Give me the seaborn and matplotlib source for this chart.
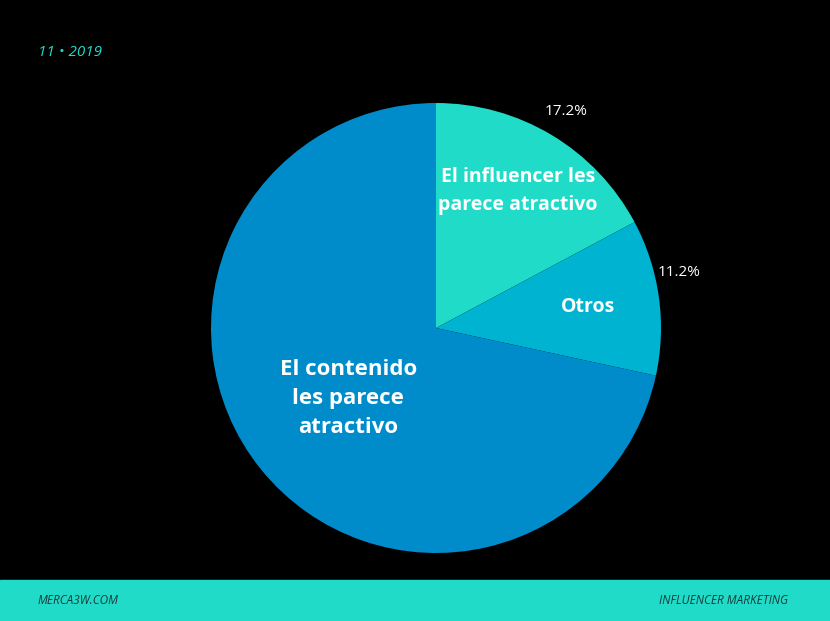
import numpy as np
import matplotlib
matplotlib.use('Agg')
import matplotlib.pyplot as plt
import seaborn as sns

# Data
categories = ["El influencer les\nparece atractivo", "Otros", "El contenido\nles parece\natractivo"]
shares = [17.2, 11.2, 71.6]
colors = ["#20dbc8", "#00b3d1", "#008ccb"]

sns.set_theme(style="dark", rc={"font.family": "Open Sans"})

fig = plt.figure(figsize=(8.3, 6.21), dpi=100, facecolor="black")
W, H = 830, 621
cx, cy, r = 436, 328, 225
ax = fig.add_axes([(cx - r) / W, (H - cy - r) / H, 2 * r / W, 2 * r / H])
ax.set_facecolor("black")

wedges, _ = ax.pie(shares, colors=colors, startangle=90, counterclock=False,
                   radius=1.0, wedgeprops=dict(linewidth=0))
ax.set_xlim(-1, 1)
ax.set_ylim(-1, 1)
ax.set_aspect("equal")
ax.axis("off")

# label placement (radius, angle offset in degrees) per wedge
label_r = [0.71, 0.68, 0.5]
pct_r = [1.12, 1.11, 1.30]
pct_off = [0, 5, 26]
for w, cat, val, lr, pr, po in zip(wedges, categories, shares, label_r, pct_r, pct_off):
    mid = np.deg2rad((w.theta1 + w.theta2) / 2)
    ax.text(lr * np.cos(mid), lr * np.sin(mid), cat, ha="center", va="center",
            color="white", fontsize=14 if val < 50 else 16, fontweight="bold",
            linespacing=1.5)
    pm = mid + np.deg2rad(po)
    ax.text(pr * np.cos(pm), pr * np.sin(pm), f"{val}%", ha="center", va="center",
            color="white", fontsize=11)

fig.text(38 / W, 1 - 52 / H, "11 • 2019", color="#20dbc8", fontsize=11,
         fontstyle="italic", va="center", ha="left")

# footer band
fig.patches.append(matplotlib.patches.Rectangle((0, 0), 1, 41 / H, transform=fig.transFigure,
                                                color="#20dbc8", zorder=0))
fig.text(38 / W, 20 / H, "MERCA3W.COM", color="#1a3a3a", fontsize=8.5, va="center",
         ha="left", fontstyle="italic")
fig.text(788 / W, 20 / H, "INFLUENCER MARKETING", color="#1a3a3a", fontsize=8.5,
         va="center", ha="right", fontstyle="italic")

fig.savefig("out.png", dpi=100, facecolor="black")
